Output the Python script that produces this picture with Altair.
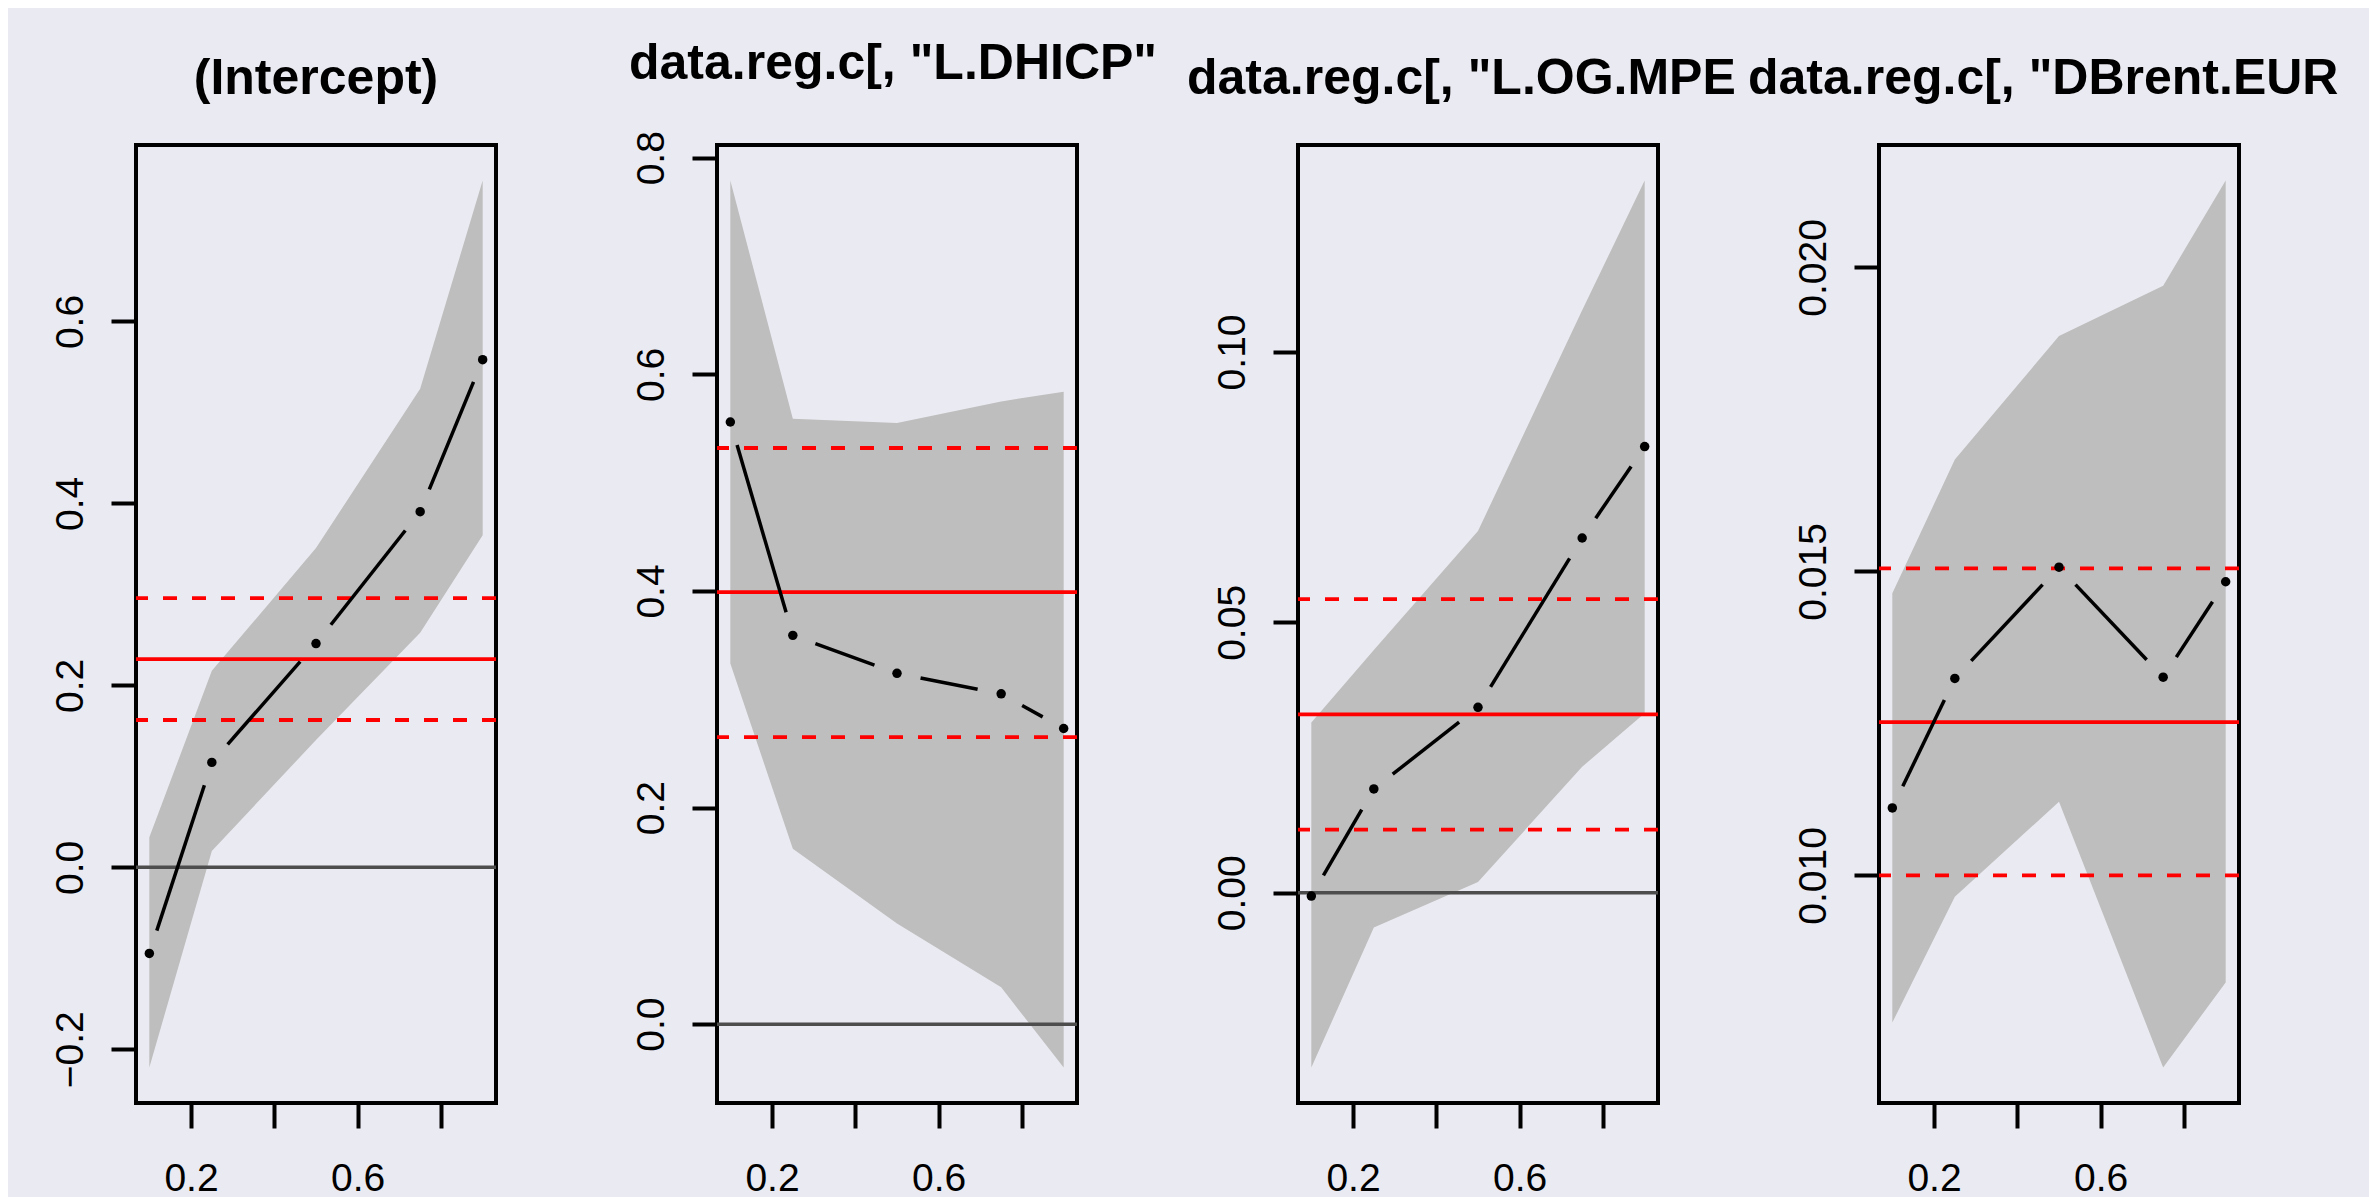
import math
import altair as alt
import pandas as pd

# ---------------- data ----------------
taus = [0.1, 0.25, 0.5, 0.75, 0.9]

titles = ["(Intercept)", 'data.reg.c[, "L.DHICP"', 'data.reg.c[, "L.OG.MPE', 'data.reg.c[, "DBrent.EUR']

coef_intercept = [-0.0946, 0.1154, 0.246, 0.391, 0.558]
lower_intercept = [-0.220, 0.018, 0.140, 0.258, 0.365]
upper_intercept = [0.033, 0.216, 0.351, 0.526, 0.755]
ols_intercept = [0.229, 0.162, 0.296]          # estimate, lower, upper

coef_dhicp = [0.556, 0.359, 0.324, 0.305, 0.273]
lower_dhicp = [0.333, 0.162, 0.093, 0.034, -0.040]
upper_dhicp = [0.779, 0.559, 0.555, 0.575, 0.584]
ols_dhicp = [0.399, 0.265, 0.532]

coef_og = [-0.0006, 0.0192, 0.0343, 0.0656, 0.0825]
lower_og = [-0.0323, -0.0064, 0.0020, 0.0233, 0.0332]
upper_og = [0.0315, 0.0449, 0.0669, 0.1077, 0.1317]
ols_og = [0.0330, 0.0117, 0.0543]

coef_brent = [0.01111, 0.01324, 0.01507, 0.01326, 0.01483]
lower_brent = [0.00758, 0.00965, 0.01121, 0.00684, 0.00824]
upper_brent = [0.01464, 0.01684, 0.01887, 0.01970, 0.02143]
ols_brent = [0.01252, 0.01000, 0.01505]

y_ticks = [[-0.2, 0.0, 0.2, 0.4, 0.6], [0.0, 0.2, 0.4, 0.6, 0.8], [0.0, 0.05, 0.10], [0.010, 0.015, 0.020]]
y_formats = [".1f", ".1f", ".2f", ".3f"]
x_ticks = [0.2, 0.4, 0.6, 0.8]

coefs = [coef_intercept, coef_dhicp, coef_og, coef_brent]
lowers = [lower_intercept, lower_dhicp, lower_og, lower_brent]
uppers = [upper_intercept, upper_dhicp, upper_og, upper_brent]
olss = [ols_intercept, ols_dhicp, ols_og, ols_brent]

# ---------------- layout / style ----------------
W, H = 360, 958
GAP = 24  # px gap around points (type="b")
FONT = "Liberation Sans"
BG = "#EAEAF2"
title_anchor = ["middle", "start", "start", "start"]
title_dx = [0, -88, -111, -131]

x_lo = min(taus) - 0.04 * (max(taus) - min(taus))
x_hi = max(taus) + 0.04 * (max(taus) - min(taus))
xdom = [x_lo, x_hi]


def panel(i):
    coef, lo, hi, ols = coefs[i], lowers[i], uppers[i], olss[i]
    ymin, ymax = min(lo), max(hi)
    r = ymax - ymin
    ydom = [ymin - 0.04 * r, ymax + 0.04 * r]

    xs = alt.Scale(domain=xdom, nice=False, zero=False)
    ys = alt.Scale(domain=ydom, nice=False, zero=False)
    xax = alt.Axis(values=x_ticks, format=".1f", labelPadding=31, labelBaseline="top",
                   labelExpr="datum.label == '0.2' || datum.label == '0.6' ? datum.label : ''")
    yax = alt.Axis(values=y_ticks[i], format=y_formats[i], labelAngle=-90, labelAlign="center",
                   labelBaseline="alphabetic", labelPadding=29)

    def X(f):
        return alt.X(f, type="quantitative", scale=xs, axis=xax, title=None)

    def Y(f):
        return alt.Y(f, type="quantitative", scale=ys, axis=yax, title=None)

    band_df = pd.DataFrame({"tau": taus, "lo": lo, "hi": hi})
    band = alt.Chart(band_df).mark_area(color="#BEBEBE", opacity=1).encode(
        x=X("tau"), y=Y("lo"), y2="hi")

    layers = [band]

    if ydom[0] < 0 < ydom[1]:
        zero = alt.Chart(pd.DataFrame({"v": [0.0]})).mark_rule(color="#4D4D4D", strokeWidth=3.5).encode(y=Y("v"))
        layers.append(zero)

    ols_solid = alt.Chart(pd.DataFrame({"v": [ols[0]]})).mark_rule(color="#FF0000", strokeWidth=3.8).encode(y=Y("v"))
    ols_dash = alt.Chart(pd.DataFrame({"v": ols[1:]})).mark_rule(
        color="#FF0000", strokeWidth=3.8, strokeDash=[14, 15]).encode(y=Y("v"))
    layers += [ols_solid, ols_dash]

    # line segments with gaps around points (R type="b")
    def px(t):
        return (t - xdom[0]) / (xdom[1] - xdom[0]) * W

    def py(v):
        return (v - ydom[0]) / (ydom[1] - ydom[0]) * H

    segs = []
    for k in range(len(taus) - 1):
        t1, t2, c1, c2 = taus[k], taus[k + 1], coef[k], coef[k + 1]
        L = math.hypot(px(t2) - px(t1), py(c2) - py(c1))
        if L > 2 * GAP:
            f = GAP / L
            segs.append({"t1": t1 + f * (t2 - t1), "c1": c1 + f * (c2 - c1),
                         "t2": t2 - f * (t2 - t1), "c2": c2 - f * (c2 - c1)})
    seg = alt.Chart(pd.DataFrame(segs)).mark_rule(color="black", strokeWidth=3.5).encode(
        x=X("t1"), y=Y("c1"), x2="t2", y2="c2")
    pts = alt.Chart(pd.DataFrame({"tau": taus, "c": coef})).mark_point(
        filled=True, color="black", size=90, opacity=1).encode(x=X("tau"), y=Y("c"))
    layers += [seg, pts]

    return alt.layer(*layers).properties(
        width=W, height=H,
        title=alt.TitleParams(text=titles[i], anchor=title_anchor[i], dx=title_dx[i], offset=1.5,
                              baseline="alphabetic", frame="group", fontSize=50,
                              fontWeight="bold", font=FONT, color="black"))


chart = alt.hconcat(*[panel(i) for i in range(4)], spacing=221, bounds="flush").properties(
    padding={"left": 41, "top": 29, "right": 28, "bottom": 5},
    background=BG,
).configure_view(stroke="black", strokeWidth=4).configure_axis(
    labelFont=FONT, labelFontSize=39, labelColor="black", tickColor="black", tickWidth=4,
    tickSize=25, domain=False, grid=False,
)

chart.save("out.html", embed_options={"renderer": "svg", "actions": False})
